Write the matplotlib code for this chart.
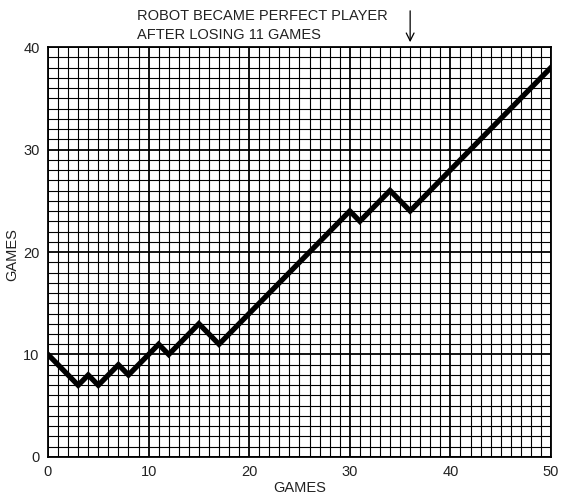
import numpy as np
from matplotlib import pyplot as plt

plt.rcParams['font.family'] = ['Liberation Sans', 'DejaVu Sans']

# games played vs. games won by robot (path)
games_x = [0, 3, 4, 5, 7, 8, 11, 12, 15, 17, 30, 31, 34, 36, 50]
games_y = [10, 7, 8, 7, 9, 8, 11, 10, 13, 11, 24, 23, 26, 24, 38]
x_ticks = [0, 10, 20, 30, 40, 50]
y_ticks = [0, 10, 20, 30, 40]
note = "ROBOT BECAME PERFECT PLAYER\nAFTER LOSING 11 GAMES"
perfect_at = 36

fig = plt.figure(figsize=(5.62, 4.97), dpi=100)
ax = fig.add_axes([0.0854, 0.0805, 0.8950, 0.8249])

# graph paper grid
for v in range(0, 51):
    lw = 1.3 if v % 10 == 0 else 0.8
    ax.axvline(v, color='black', lw=lw, zorder=1)
for v in range(0, 41):
    lw = 1.3 if v % 10 == 0 else 0.8
    ax.axhline(v, color='black', lw=lw, zorder=1)

ax.plot(games_x, games_y, color='black', lw=3.8, solid_joinstyle='miter', zorder=3)

ax.set_xlim(0, 50)
ax.set_ylim(0, 40)
ax.set_xticks(x_ticks)
ax.set_yticks(y_ticks)
ax.tick_params(length=0, labelsize=10.5, pad=6, colors='#222222')
for s in ax.spines.values():
    s.set_linewidth(1.3)

fig.text(0.534, 0.018, "GAMES", fontsize=10.5, ha='center', va='center', color='#222222')
fig.text(0.022, 0.487, "GAMES", fontsize=10.5, ha='center', va='center',
         rotation=90, color='#222222')

fig.text(0.243, 0.948, note, fontsize=10.5, va='center', ha='left',
         linespacing=1.45, color='#222222')
ax.annotate("", xy=(perfect_at, 40.2), xytext=(perfect_at, 43.8),
            xycoords='data', annotation_clip=False,
            arrowprops=dict(arrowstyle='->', color='black', lw=0.9,
                            mutation_scale=14))

fig.savefig("out.png", dpi=100)
